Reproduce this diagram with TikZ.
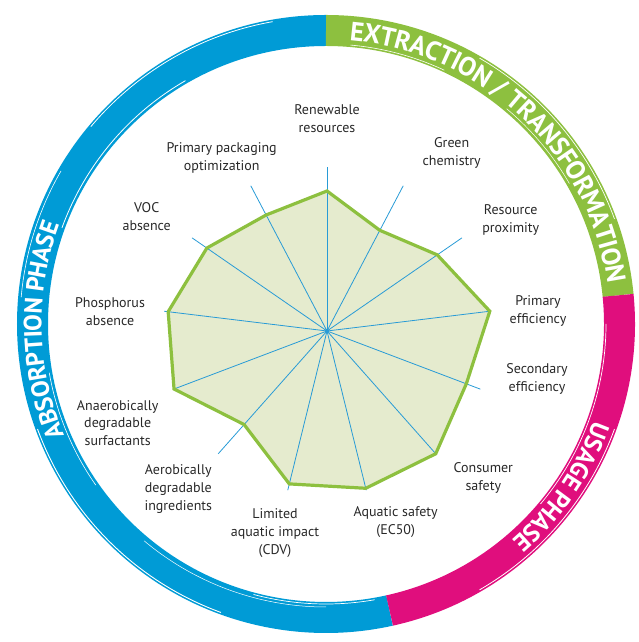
\documentclass[tikz,border=0pt]{standalone}
\usepackage{fontspec}
\setmainfont{PT Sans}
\usetikzlibrary{decorations.text}
\definecolor{ringblue}{RGB}{0,155,214}
\definecolor{ringgreen}{RGB}{141,192,63}
\definecolor{ringmag}{RGB}{224,14,125}
\definecolor{radarfill}{RGB}{229,235,206}
\definecolor{radarline}{RGB}{141,192,63}
\definecolor{spokecol}{RGB}{40,155,214}
\definecolor{labeltext}{RGB}{40,40,40}
\begin{document}
\begin{tikzpicture}[x=1pt,y=1pt,
  lbl/.style={font=\fontsize{14}{17.8}\selectfont, text=labeltext, align=center, inner sep=0pt},
  ringseg/.style={line width=31pt},
  spokeline/.style={draw=spokecol, line width=0.8pt},
  radarpoly/.style={draw=radarline, line width=3.2pt, line join=miter},
  ringtext/.style={decorate, decoration={text along path, text={#1}, text align=center, raise=-9pt, text color=white}},
  streak/.style={white, line width=#1}
]
\useasboundingbox (0,0) rectangle (639,642);
\coordinate (R) at (326,318);
\coordinate (O) at (327,311);
% ---- ring segments
\path (R) ++(90:293.5pt) coordinate (ab);
\path (R) ++(5.6:293.5pt) coordinate (gm);
\path (R) ++(-77.5:293.5pt) coordinate (mb);
\draw[ringseg, ringblue] (ab) arc[start angle=90, end angle=282.5, radius=293.5pt];
\draw[ringseg, ringgreen] (gm) arc[start angle=5.6, end angle=90, radius=293.5pt];
\draw[ringseg, ringmag] (mb) arc[start angle=-77.5, end angle=5.6, radius=293.5pt];
% brush streaks
\foreach \a/\b/\rr/\w in {100/140/307/0.8, 150/175/306/0.6, 200/250/307/0.9, 255/280/280/0.7, 190/215/281/0.6, 120/160/281/0.8,
  20/60/307/0.7, 65/85/280/0.6, 30/50/281/0.5, -60/-20/307/0.8, -40/0/280/0.7, 230/270/283/0.5} {
  \path (R) ++(\a:\rr pt) coordinate (st);
  \draw[streak=\w pt] (st) arc[start angle=\a, end angle=\b, radius=\rr pt];
}
% ---- ring texts
\path (R) ++(106.7:293.5pt) coordinate (t1);
\path[ringtext={|\fontsize{26.5}{26.5}\selectfont\bfseries|EXTRACTION / TRANSFORMATION}] (t1) arc[start angle=106.7, end angle=-13.3, radius=293.5pt];
\path (R) ++(5.4:293.5pt) coordinate (t2);
\path[ringtext={|\fontsize{25}{25}\selectfont\bfseries|USAGE PHASE}] (t2) arc[start angle=5.4, end angle=-74.6, radius=293.5pt];
\path (R) ++(221.3:293.5pt) coordinate (t3);
\path[ringtext={|\fontsize{25}{25}\selectfont\bfseries|ABSORPTION PHASE}] (t3) arc[start angle=221.3, end angle=141.3, radius=293.5pt];
% ---- radar geometry
\foreach \r [count=\i from 0] in {140,113.7,134,164,149,164,162,157.5,125,163.6,160,146,131} {
  \path (O) ++({90-\i*360/13}:\r pt) coordinate (v\i);
  \path (O) ++({90-\i*360/13}:164pt) coordinate (s\i);
}
\fill[radarfill] (v0) -- (v1) -- (v2) -- (v3) -- (v4) -- (v5) -- (v6) -- (v7) -- (v8) -- (v9) -- (v10) -- (v11) -- (v12) -- cycle;
\foreach \i in {0,...,12} { \draw[spokeline] (O) -- (s\i); }
\draw[radarpoly] (v0) -- (v1) -- (v2) -- (v3) -- (v4) -- (v5) -- (v6) -- (v7) -- (v8) -- (v9) -- (v10) -- (v11) -- (v12) -- cycle;
\fill[spokecol] (O) circle[radius=2pt];
% ---- labels
\node[lbl] (l0) at (327,523) {Renewable\\resources};
\node[lbl] (l1) at (451.7,489) {Green\\chemistry};
\node[lbl] (l2) at (510.7,422) {Resource\\proximity};
\node[lbl] (l3) at (538,331) {Primary\\efficiency};
\node[lbl] (l4) at (537,263) {Secondary\\efficiency};
\node[lbl] (l5) at (483.3,164) {Consumer\\safety};
\node[lbl] (l6) at (395.7,120) {Aquatic safety\\(EC50)};
\node[lbl] (l7) at (275,109) {Limited\\aquatic impact\\(CDV)};
\node[lbl] (l8) at (178.3,153) {Aerobically\\degradable\\ingredients};
\node[lbl] (l9) at (117.7,219) {Anaerobically\\degradable\\surfactants};
\node[lbl] (l10) at (110,330.3) {Phosphorus\\absence};
\node[lbl] (l11) at (146.7,425.3) {VOC\\absence};
\node[lbl] (l12) at (221.7,484.3) {Primary packaging\\optimization};
\end{tikzpicture}
\end{document}
